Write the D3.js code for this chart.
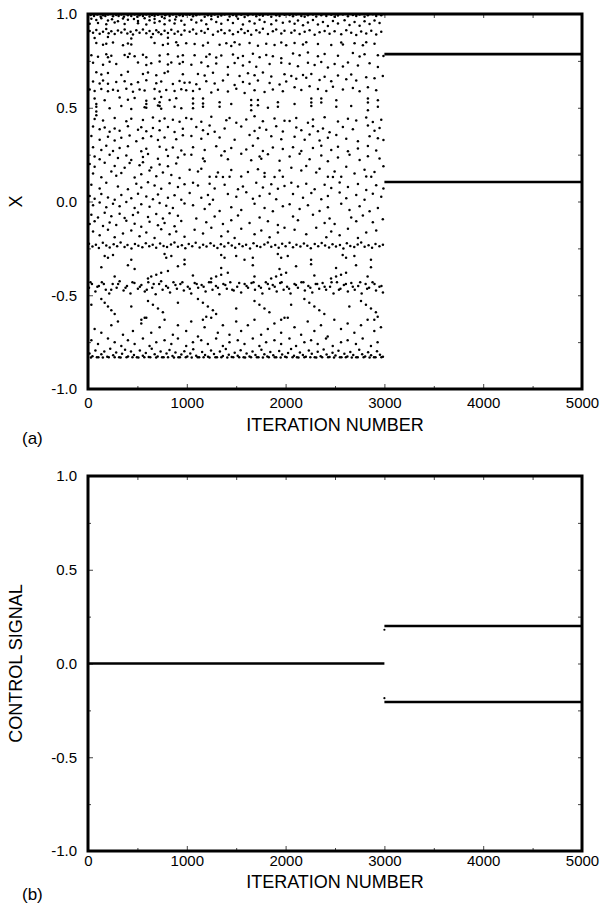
<!DOCTYPE html>
<html>
<head>
<meta charset="utf-8">
<script src="https://cdn.jsdelivr.net/npm/d3@7"></script>
<style>body{margin:0;background:#fff}</style>
</head>
<body>
<script>
width = 601;
height = 908;

// panel (a): chaotic iterates before control is switched on, [iteration, x]
const chaosPoints = [
  // 0-1000, upper part
  [27,.995],[61,.99],[94,.998],[128,.985],[152,.993],[175,.99],[202,.997],[253,.988],[286,.995],[310,.99],[337,.998],[364,.986],[404,.994],[438,.99],[472,.997],[499,.985],[522,.993],[556,.99],[590,.998],[623,.987],[647,.995],[674,.99],[708,.996],[748,.986],[782,.994],[826,.99],[859,.998],[893,.985],[927,.993],[960,.99],[994,.997],
  [34,.975],[84,.968],[135,.978],[202,.965],[243,.972],[303,.962],[354,.976],[404,.969],[465,.974],[506,.963],[573,.977],[623,.967],[674,.973],[725,.961],[775,.978],[826,.966],[883,.971],[944,.964],
  [17,.948],[101,.952],[185,.945],[270,.955],[371,.947],[506,.951],[590,.944],[674,.953],[775,.946],[876,.95],[977,.943],
  [17,.91],[51,.9],[84,.915],[118,.895],[152,.905],[185,.92],[209,.898],[236,.908],[270,.893],[303,.912],[337,.902],[371,.917],[398,.896],[431,.906],[455,.891],[489,.913],[522,.9],[556,.918],[590,.897],[623,.909],[657,.894],[691,.914],[714,.903],[741,.892],[775,.911],[809,.899],[843,.916],[876,.895],[910,.907],[944,.89],[977,.912],
  [67,.872],[202,.878],[438,.87],[640,.876],[809,.873],
  [84,.845],[152,.836],[185,.842],[253,.848],[354,.834],[404,.843],[438,.838],[674,.846],[758,.835],[809,.841],[893,.849],[910,.833],[994,.844],
  [34,.78],[101,.772],[185,.785],[202,.77],[236,.778],[371,.782],[404,.771],[421,.788],[472,.775],[556,.783],[590,.769],[725,.779],[809,.786],[910,.773],[960,.78],
  [51,.74],[152,.73],[219,.745],[286,.733],[506,.742],[590,.728],[640,.738],[725,.747],[809,.731],[843,.741],[927,.735],[960,.744],
  [84,.69],[135,.678],[202,.686],[337,.675],[404,.692],[556,.68],[607,.688],[691,.673],[775,.685],[809,.694],[960,.679],
  [51,.64],[118,.63],[152,.645],[202,.628],[286,.638],[371,.642],[438,.626],[506,.636],[590,.647],[691,.631],[741,.64],[859,.627],[927,.643],[977,.633],
  [17,.598],[67,.59],[135,.6],[202,.588],[253,.596],[303,.591],[388,.602],[455,.586],[522,.597],[573,.592],[674,.6],[725,.587],[792,.595],[876,.589],[944,.599],[994,.593],
  [67,.55],[169,.54],[320,.555],[404,.543],[472,.552],[590,.538],[674,.548],[741,.557],[826,.541],[893,.551],
  [84,.505],[219,.497],[337,.51],[438,.494],[573,.503],[708,.512],[741,.495],[876,.506],[944,.498],
  [84,.52],[84,.48],[84,.46],[590,.52],[590,.5],[725,.53],[725,.51],
  [67,.44],[152,.432],[270,.446],[388,.428],[438,.441],[556,.435],[657,.448],[725,.43],[775,.443],[859,.436],[927,.426],[994,.445],
  // 1000-2000, upper part
  [1029,.996],[1063,.988],[1096,.993],[1130,.999],[1181,.986],[1214,.994],[1248,.99],[1282,.997],[1315,.985],[1349,.992],[1383,.998],[1433,.987],[1467,.995],[1501,.99],[1551,.996],[1585,.984],[1619,.993],[1669,.998],[1703,.988],[1737,.995],[1770,.991],[1821,.997],[1855,.986],[1905,.994],[1939,.989],[1989,.996],
  [1046,.97],[1096,.955],[1147,.965],[1197,.945],[1248,.972],[1298,.958],[1349,.948],[1416,.968],[1467,.952],[1518,.975],[1568,.944],[1635,.962],[1686,.95],[1737,.97],[1787,.957],[1855,.946],[1905,.966],[1972,.953],
  [1029,.905],[1063,.918],[1096,.895],[1147,.91],[1181,.9],[1214,.92],[1265,.89],[1315,.907],[1349,.915],[1383,.897],[1433,.912],[1467,.892],[1518,.904],[1551,.919],[1585,.899],[1619,.909],[1652,.889],[1703,.914],[1737,.902],[1770,.921],[1821,.894],[1871,.908],[1905,.917],[1956,.896],[1989,.911],
  [1079,.84],[1164,.832],[1214,.847],[1332,.836],[1400,.844],[1450,.829],[1484,.85],[1534,.838],[1635,.845],[1720,.831],[1804,.842],[1888,.835],[1956,.848],[2006,.833],
  [1079,.78],[1197,.772],[1231,.786],[1298,.768],[1349,.779],[1467,.784],[1518,.766],[1568,.776],[1669,.788],[1737,.77],[1804,.782],[1871,.775],[1956,.764],
  [1046,.73],[1147,.742],[1214,.722],[1298,.736],[1416,.717],[1484,.739],[1568,.726],[1635,.744],[1703,.719],[1838,.733],[1956,.74],
  [1113,.68],[1181,.672],[1265,.687],[1416,.676],[1534,.669],[1619,.684],[1686,.674],[1770,.688],[1855,.667],[1989,.679],
  [1029,.635],[1096,.626],[1197,.642],[1282,.63],[1366,.645],[1484,.622],[1568,.638],[1635,.628],[1720,.646],[1838,.632],[1939,.624],[2006,.64],
  [1063,.59],[1130,.6],[1248,.582],[1315,.596],[1416,.587],[1501,.602],[1585,.579],[1686,.593],[1787,.584],[1871,.598],[1972,.588],
  [1063,.55],[1063,.523],[1063,.497],[1164,.549],[1164,.523],[1164,.505],[1332,.53],[1332,.505],[1652,.541],[1652,.514],[1652,.487],[1720,.541],[1720,.514],[1922,.53],[1922,.505],[1450,.52],[1821,.5],
  [1046,.44],[1147,.425],[1248,.452],[1400,.433],[1433,.446],[1501,.42],[1602,.438],[1686,.455],[1770,.428],[1888,.443],[1989,.431],
  // 2000-3000, upper part
  [2041,.995],[2075,.988],[2108,.997],[2159,.99],[2193,.985],[2226,.994],[2277,.998],[2310,.987],[2361,.993],[2412,.99],[2462,.996],[2496,.985],[2530,.992],[2580,.998],[2631,.988],[2681,.995],[2715,.99],[2749,.997],[2799,.986],[2833,.993],[2883,.999],[2917,.989],[2968,.994],
  [2041,.96],[2091,.948],[2125,.966],[2176,.94],[2226,.955],[2277,.968],[2327,.944],[2378,.958],[2428,.936],[2479,.963],[2530,.95],[2597,.967],[2647,.942],[2698,.957],[2749,.938],[2799,.962],[2850,.947],[2900,.965],[2951,.952],
  [2058,.9],[2091,.912],[2142,.893],[2193,.906],[2243,.914],[2294,.889],[2344,.903],[2395,.91],[2445,.895],[2496,.908],[2563,.892],[2614,.913],[2664,.9],[2715,.888],[2765,.907],[2816,.896],[2867,.911],[2917,.891],[2968,.905],
  [2091,.845],[2176,.838],[2209,.85],[2327,.84],[2462,.835],[2563,.848],[2580,.837],[2698,.844],[2782,.834],[2816,.849],[2900,.841],
  [2075,.79],[2142,.78],[2226,.795],[2327,.775],[2395,.787],[2530,.778],[2681,.792],[2749,.773],[2799,.785],[2934,.78],[2990,.776],
  [2041,.735],[2125,.722],[2226,.74],[2294,.728],[2361,.744],[2428,.715],[2496,.733],[2580,.72],[2631,.742],[2732,.726],[2850,.737],[2934,.718],
  [2058,.67],[2108,.655],[2176,.675],[2209,.66],[2260,.68],[2344,.648],[2395,.665],[2462,.642],[2530,.672],[2614,.652],[2664,.678],[2715,.645],[2816,.663],[2900,.658],[2984,.67],
  [2091,.61],[2159,.595],[2243,.615],[2327,.6],[2412,.59],[2479,.612],[2580,.597],[2681,.605],[2749,.588],[2833,.609],[2917,.593],
  [2260,.55],[2260,.528],[2260,.51],[2361,.55],[2361,.528],[2513,.54],[2513,.505],[2833,.55],[2833,.528],[2833,.487],[2934,.54],[2934,.505],[2091,.52],[2664,.51],
  [2041,.43],[2108,.445],[2226,.42],[2277,.438],[2395,.45],[2530,.427],[2631,.441],[2715,.432],[2816,.448],[2883,.424],[2968,.436],
  // 0-1000, middle part
  [51,.4],[118,.385],[169,.395],[219,.372],[270,.39],[320,.378],[404,.402],[506,.383],[539,.396],[590,.375],[657,.392],[725,.38],[809,.398],[876,.371],[960,.388],
  [34,.35],[118,.33],[202,.345],[270,.325],[337,.34],[421,.352],[489,.322],[556,.338],[640,.348],[708,.328],[775,.342],[893,.332],[960,.354],
  [51,.29],[135,.275],[185,.297],[253,.27],[320,.285],[404,.295],[539,.268],[590,.282],[725,.292],[792,.276],[859,.288],[944,.272],
  [67,.24],[118,.225],[219,.25],[303,.232],[388,.245],[438,.222],[556,.238],[607,.254],[708,.228],[809,.243],[910,.235],[977,.251],
  [17,.2],[67,.185],[169,.207],[270,.19],[371,.18],[421,.205],[522,.193],[556,.21],[640,.182],[725,.198],[809,.188],[893,.203],
  [51,.15],[135,.13],[236,.16],[286,.138],[337,.152],[472,.128],[539,.145],[623,.165],[691,.135],[758,.155],[843,.142],[927,.126],
  [34,.09],[118,.07],[185,.1],[303,.08],[404,.065],[489,.095],[539,.075],[607,.103],[674,.085],[741,.068],[826,.098],[910,.078],[977,.092],
  [17,.03],[67,.015],[135,.04],[202,.022],[270,.01],[337,.035],[438,.018],[506,.042],[590,.027],[657,.012],[708,.038],[809,.02],[876,.033],[944,.009],
  [51,-.02],[118,-.005],[185,-.03],[253,-.012],[320,-.025],[388,-.002],[472,-.034],[539,-.015],[623,-.028],[725,-.008],[792,-.022],[859,-.035],[977,-.01],
  [34,-.07],[101,-.085],[169,-.06],[236,-.078],[320,-.065],[371,-.088],[455,-.072],[506,-.058],[607,-.082],[691,-.067],[758,-.09],[826,-.062],[910,-.076],
  [17,-.12],[67,-.105],[152,-.13],[219,-.112],[286,-.125],[388,-.102],[472,-.118],[539,-.134],[623,-.108],[708,-.127],[775,-.115],[876,-.132],[944,-.104],
  [51,-.16],[118,-.18],[202,-.15],[270,-.19],[354,-.17],[438,-.155],[522,-.185],[590,-.165],[674,-.195],[741,-.148],[826,-.175],[893,-.16],[977,-.188],
  // 1000-2000, middle part
  [1096,.398],[1164,.38],[1231,.405],[1282,.372],[1383,.39],[1551,.4],[1686,.376],[1737,.393],[1804,.383],[1905,.402],[1972,.374],
  [1046,.35],[1147,.335],[1214,.36],[1332,.342],[1484,.33],[1635,.355],[1720,.338],[1855,.348],[1956,.332],
  [1063,.29],[1181,.275],[1298,.295],[1383,.268],[1450,.285],[1602,.278],[1669,.298],[1770,.27],[1871,.288],[1972,.28],
  [1046,.25],[1164,.23],[1181,.215],[1349,.245],[1416,.225],[1551,.255],[1652,.22],[1737,.24],[1754,.228],[1821,.252],[1939,.218],
  [1029,.17],[1113,.16],[1147,.175],[1315,.155],[1450,.168],[1619,.158],[1720,.172],[1787,.152],[1939,.165],
  [1231,.132],[1298,.132],[1366,.131],[1433,.132],[1551,.133],[1787,.132],[1888,.131],[1972,.132],
  [1063,.1],[1113,.085],[1231,.095],[1282,.07],[1383,.09],[1518,.065],[1568,.08],[1703,.1],[1770,.075],[1855,.092],[1922,.068],[1989,.083],
  [1029,.045],[1147,.02],[1214,.035],[1265,.01],[1416,.04],[1501,.025],[1602,.05],[1669,.015],[1737,.03],[1838,.042],[1905,.012],
  [1063,-.02],[1181,-.04],[1231,-.015],[1332,-.05],[1450,-.03],[1551,-.045],[1686,-.012],[1787,-.035],[1871,-.052],[1972,-.025],
  [1096,-.09],[1197,-.11],[1282,-.08],[1366,-.12],[1450,-.1],[1518,-.075],[1635,-.115],[1737,-.085],[1821,-.105],[1922,-.125],
  [1079,-.15],[1164,-.17],[1248,-.14],[1349,-.185],[1416,-.16],[1484,-.195],[1551,-.145],[1686,-.175],[1754,-.155],[1838,-.19],[1922,-.165],[1989,-.14],
  // 2000-3000, middle part
  [2108,.395],[2159,.38],[2277,.402],[2327,.375],[2378,.39],[2445,.37],[2580,.398],[2681,.385],[2833,.405],[2900,.378],[2951,.392],
  [2091,.345],[2193,.33],[2243,.358],[2344,.325],[2428,.34],[2513,.355],[2614,.335],[2732,.322],[2850,.348],[2934,.338],[2990,.328],
  [2075,.29],[2159,.27],[2277,.285],[2361,.298],[2462,.275],[2530,.292],[2631,.268],[2732,.283],[2833,.296],[2917,.272],
  [2041,.24],[2142,.255],[2243,.225],[2361,.245],[2428,.215],[2530,.235],[2647,.25],[2749,.222],[2833,.242],[2951,.23],
  [2058,.18],[2159,.165],[2209,.19],[2310,.155],[2344,.175],[2496,.16],[2614,.185],[2698,.15],[2799,.17],[2900,.158],[2990,.188],
  [2428,.132],[2479,.131],[2563,.132],[2816,.133],[2867,.132],
  [2058,.1],[2125,.08],[2209,.095],[2294,.065],[2395,.09],[2462,.072],[2547,.102],[2631,.078],[2732,.094],[2816,.062],[2917,.087],[2990,.07],
  [2075,.04],[2176,.02],[2260,.045],[2361,.012],[2428,.03],[2547,.048],[2614,.018],[2715,.035],[2799,.01],[2883,.042],[2968,.025],
  [2041,-.015],[2142,-.04],[2226,-.02],[2344,-.05],[2428,-.03],[2563,-.012],[2647,-.045],[2749,-.025],[2850,-.052],[2934,-.035],
  [2075,-.08],[2125,-.1],[2277,-.07],[2395,-.115],[2445,-.09],[2496,-.12],[2664,-.085],[2715,-.105],[2782,-.075],[2883,-.11],[2984,-.095],
  [2091,-.15],[2209,-.175],[2310,-.14],[2412,-.19],[2462,-.16],[2547,-.18],[2631,-.145],[2732,-.195],[2816,-.165],[2917,-.155],
  // 0-3000, lower part: band near -0.23
  [10,-.225],[45,-.24],[80,-.23],[110,-.248],[150,-.22],[185,-.235],[220,-.245],[260,-.228],[295,-.238],[330,-.218],[370,-.242],[400,-.232],[440,-.25],[475,-.226],[510,-.236],[550,-.244],[585,-.222],[620,-.239],[655,-.23],[690,-.247],[730,-.224],[765,-.237],[800,-.243],[840,-.229],[875,-.219],[910,-.241],[950,-.233],[985,-.249],[1020,-.227],[1055,-.238],[1090,-.22],[1130,-.245],[1165,-.231],[1200,-.24],[1240,-.223],[1275,-.236],[1310,-.248],[1345,-.228],[1380,-.24],[1420,-.221],[1455,-.234],[1490,-.246],[1530,-.226],[1565,-.239],[1600,-.231],[1640,-.25],[1675,-.222],[1710,-.237],[1745,-.243],[1785,-.229],[1820,-.218],[1855,-.241],[1895,-.232],[1930,-.247],[1965,-.225],[2000,-.238],[2040,-.22],[2075,-.244],[2110,-.23],[2150,-.24],[2185,-.224],[2220,-.236],[2255,-.249],[2295,-.227],[2330,-.239],[2365,-.221],[2400,-.234],[2440,-.245],[2475,-.228],[2510,-.24],[2550,-.232],[2585,-.25],[2620,-.223],[2655,-.237],[2695,-.242],[2730,-.229],[2765,-.219],[2800,-.241],[2840,-.233],[2875,-.247],[2910,-.226],[2950,-.238],[2985,-.23],
  [169,-.29],[202,-.3],[253,-.285],[775,-.28],[792,-.3],[843,-.29],[1348,-.285],[1382,-.3],[1500,-.29],[1921,-.28],[1955,-.3],[2022,-.29],[2578,-.285],[2612,-.3],[2696,-.29],[438,-.31],[977,-.31],[1584,-.31],[1668,-.3],[2258,-.31],[2864,-.31],
  [135,-.35],[404,-.34],[472,-.36],[910,-.345],[977,-.335],[1348,-.355],[1668,-.34],[1938,-.36],[2106,-.345],[2258,-.335],[2511,-.355],[2713,-.34],[2864,-.35],
  [607,-.41],[640,-.4],[691,-.39],[741,-.38],[809,-.37],[1247,-.41],[1297,-.4],[1348,-.39],[1415,-.38],[1854,-.41],[1904,-.4],[1955,-.39],[2005,-.38],[2460,-.41],[2511,-.4],[2561,-.39],[2612,-.38],[270,-.4],[1062,-.395],[1685,-.4],[2291,-.395],[2830,-.4],
  // band near -0.46
  [10,-.46],[40,-.44],[75,-.48],[110,-.45],[140,-.43],[180,-.47],[215,-.49],[250,-.44],[290,-.46],[320,-.425],[360,-.475],[395,-.45],[430,-.49],[470,-.435],[505,-.465],[540,-.445],[575,-.48],[610,-.43],[650,-.46],[685,-.495],[720,-.44],[755,-.47],[790,-.45],[830,-.485],[865,-.43],[900,-.465],[935,-.44],[970,-.475],[1010,-.455],[1045,-.49],[1080,-.435],[1115,-.46],[1150,-.445],[1190,-.48],[1225,-.43],[1260,-.47],[1295,-.45],[1330,-.495],[1370,-.44],[1405,-.465],[1440,-.43],[1475,-.475],[1510,-.455],[1550,-.485],[1585,-.44],[1620,-.46],[1655,-.435],[1690,-.47],[1730,-.45],[1765,-.49],[1800,-.43],[1835,-.465],[1870,-.445],[1910,-.48],[1945,-.435],[1980,-.47],[2015,-.455],[2050,-.49],[2090,-.44],[2125,-.46],[2160,-.43],[2195,-.475],[2230,-.45],[2270,-.485],[2305,-.44],[2340,-.465],[2375,-.435],[2410,-.47],[2450,-.455],[2485,-.49],[2520,-.43],[2555,-.465],[2590,-.445],[2630,-.48],[2665,-.435],[2700,-.47],[2735,-.45],[2770,-.49],[2810,-.44],[2845,-.46],[2880,-.43],[2915,-.475],[2950,-.455],[2985,-.485],
  [25,-.43],[95,-.455],[160,-.44],[235,-.47],[305,-.44],[380,-.46],[450,-.43],[525,-.455],[595,-.47],[665,-.44],[740,-.425],[810,-.46],[885,-.445],[955,-.43],[1030,-.465],[1100,-.44],[1170,-.455],[1245,-.43],[1315,-.46],[1390,-.445],[1460,-.47],[1530,-.435],[1605,-.45],[1675,-.43],[1750,-.46],[1820,-.44],[1890,-.455],[1960,-.43],[2035,-.465],[2105,-.445],[2180,-.43],[2250,-.46],[2320,-.44],[2395,-.455],[2465,-.43],[2540,-.47],[2610,-.44],[2680,-.455],[2755,-.43],[2825,-.465],[2900,-.44],[2970,-.45],
  [135,-.52],[169,-.54],[202,-.56],[236,-.58],[270,-.6],[607,-.53],[657,-.55],[708,-.57],[758,-.59],[1113,-.52],[1163,-.54],[1213,-.56],[1264,-.58],[1297,-.6],[1685,-.53],[1735,-.55],[1786,-.57],[1836,-.59],[2190,-.52],[2240,-.54],[2291,-.56],[2341,-.58],[2392,-.6],[2763,-.53],[2813,-.55],[2864,-.57],[2914,-.59],[34,-.55],[438,-.56],[910,-.54],[1500,-.57],[2056,-.55],[2645,-.56],
  [67,-.68],[135,-.7],[236,-.66],[303,-.64],[354,-.71],[455,-.69],[539,-.65],[590,-.62],[640,-.7],[725,-.67],[775,-.63],[859,-.71],[910,-.66],[994,-.69],[1045,-.64],[1113,-.72],[1180,-.67],[1247,-.62],[1314,-.7],[1365,-.66],[1432,-.71],[1500,-.64],[1550,-.69],[1618,-.66],[1685,-.63],[1752,-.71],[1820,-.68],[1887,-.65],[1955,-.7],[2022,-.62],[2090,-.67],[2157,-.71],[2224,-.64],[2291,-.69],[2358,-.66],[2426,-.72],[2493,-.63],[2561,-.68],[2628,-.65],[2696,-.7],[2763,-.66],[2830,-.63],[2898,-.69],[2965,-.67],
  [540,-.63],[574,-.62],[1163,-.63],[1197,-.615],[1955,-.63],[1989,-.62],[2898,-.63],[2932,-.615],
  [34,-.74],[101,-.76],[202,-.73],[270,-.75],[337,-.77],[404,-.74],[472,-.76],[556,-.73],[623,-.77],[691,-.75],[775,-.74],[843,-.76],[910,-.73],[994,-.77],[1062,-.75],[1146,-.74],[1213,-.76],[1297,-.73],[1365,-.77],[1432,-.75],[1516,-.74],[1584,-.76],[1668,-.73],[1735,-.77],[1803,-.75],[1887,-.74],[1955,-.76],[2039,-.73],[2106,-.77],[2190,-.75],[2258,-.74],[2325,-.76],[2409,-.73],[2477,-.77],[2561,-.75],[2628,-.74],[2712,-.76],[2780,-.73],[2864,-.77],[2931,-.75],
  // band along the bottom edge, -0.78 to -0.83
  [15,-.81],[45,-.825],[75,-.795],[105,-.83],[135,-.815],[165,-.8],[195,-.828],[225,-.785],[255,-.82],[285,-.805],[315,-.83],[345,-.812],[375,-.79],[405,-.826],[435,-.8],[465,-.818],[495,-.83],[525,-.795],[555,-.822],[585,-.808],[615,-.829],[645,-.785],[675,-.815],[705,-.826],[735,-.8],[765,-.83],[795,-.81],[825,-.792],[855,-.824],[885,-.805],[915,-.83],[945,-.816],[975,-.798],[1005,-.827],[1035,-.81],[1065,-.788],[1095,-.822],[1125,-.83],[1155,-.803],[1185,-.818],[1215,-.828],[1245,-.795],[1275,-.813],[1305,-.83],[1335,-.8],[1365,-.824],[1395,-.786],[1425,-.817],[1455,-.829],[1485,-.806],[1515,-.822],[1545,-.793],[1575,-.83],[1605,-.811],[1635,-.826],[1665,-.8],[1695,-.819],[1725,-.83],[1755,-.79],[1785,-.814],[1815,-.827],[1845,-.802],[1875,-.82],[1905,-.83],[1935,-.797],[1965,-.816],[1995,-.828],[2025,-.808],[2055,-.787],[2085,-.823],[2115,-.83],[2145,-.805],[2175,-.818],[2205,-.828],[2235,-.794],[2265,-.812],[2295,-.83],[2325,-.801],[2355,-.825],[2385,-.789],[2415,-.816],[2445,-.829],[2475,-.807],[2505,-.821],[2535,-.796],[2565,-.83],[2595,-.812],[2625,-.826],[2655,-.802],[2685,-.818],[2715,-.83],[2745,-.791],[2775,-.815],[2805,-.827],[2835,-.804],[2865,-.82],[2895,-.83],[2925,-.798],[2955,-.817],[2985,-.828],
  [30,-.832],[90,-.83],[150,-.832],[210,-.831],[270,-.83],[330,-.832],[390,-.83],[450,-.831],[510,-.832],[570,-.83],[630,-.831],[690,-.832],[750,-.83],[810,-.831],[870,-.832],[930,-.83],[990,-.831],[1050,-.832],[1110,-.83],[1170,-.831],[1230,-.832],[1290,-.83],[1350,-.831],[1410,-.832],[1470,-.83],[1530,-.831],[1590,-.832],[1650,-.83],[1710,-.831],[1770,-.832],[1830,-.83],[1890,-.831],[1950,-.832],[2010,-.83],[2070,-.831],[2130,-.832],[2190,-.83],[2250,-.831],[2310,-.832],[2370,-.83],[2430,-.831],[2490,-.832],[2550,-.83],[2610,-.831],[2670,-.832],[2730,-.83],[2790,-.831],[2850,-.832],[2910,-.83],[2970,-.831]
];

// panel (a): period-2 orbit held once control starts
const controlOnIter = [3000, 5000];
const period2X = [0.786, 0.104];

// panel (b): control signal
const controlOffIter = [0, 3000];
const controlOffValue = 0;
const controlOnValues = [0.2, -0.205];
const controlStartDots = [[3000, 0.18], [3000, -0.185]];

const xTicks = [0, 1000, 2000, 3000, 4000, 5000];
const xMinorTicks = [500, 1500, 2500, 3500, 4500];
const yTicks = [-1, -0.5, 0, 0.5, 1];
const yMinorTicks = [-0.75, -0.25, 0.25, 0.75];

const font = "'Liberation Sans', Arial, Helvetica, sans-serif";
const left = 88;
const right = 582;

function main() {
  const svg = d3.select('body').append('svg').attr('width', width).attr('height', height);

  const a = createPanel(svg, { top: 14, bottom: 389, tickPad: 8, titleDy: 42, tagDy: 55 }, 'X', '(a)');
  a.g.append('g')
    .selectAll('circle')
    .data(chaosPoints)
    .enter()
    .append('circle')
    .attr('cx', d => a.x(d[0]))
    .attr('cy', d => a.y(d[1]))
    .attr('r', 1.25)
    .attr('fill', '#000');
  a.g.selectAll('line.orbit')
    .data(period2X)
    .enter()
    .append('line')
    .attr('class', 'orbit')
    .attr('x1', a.x(controlOnIter[0]))
    .attr('x2', a.x(controlOnIter[1]))
    .attr('y1', d => a.y(d))
    .attr('y2', d => a.y(d))
    .attr('stroke', '#000')
    .attr('stroke-width', 2.6);
  drawFrame(a);

  const b = createPanel(svg, { top: 476, bottom: 851, tickPad: 4, titleDy: 37, tagDy: 49 }, 'CONTROL SIGNAL', '(b)');
  b.g.append('line')
    .attr('x1', b.x(controlOffIter[0]))
    .attr('x2', b.x(controlOffIter[1]))
    .attr('y1', b.y(controlOffValue))
    .attr('y2', b.y(controlOffValue))
    .attr('stroke', '#000')
    .attr('stroke-width', 2.6);
  b.g.selectAll('line.ctrl')
    .data(controlOnValues)
    .enter()
    .append('line')
    .attr('class', 'ctrl')
    .attr('x1', b.x(controlOnIter[0]))
    .attr('x2', b.x(controlOnIter[1]))
    .attr('y1', d => b.y(d))
    .attr('y2', d => b.y(d))
    .attr('stroke', '#000')
    .attr('stroke-width', 2.6);
  b.g.selectAll('circle')
    .data(controlStartDots)
    .enter()
    .append('circle')
    .attr('cx', d => b.x(d[0]))
    .attr('cy', d => b.y(d[1]))
    .attr('r', 1.1)
    .attr('fill', '#000');
  drawFrame(b);
}

function createPanel(svg, box, yTitle, tag) {
  const { top, bottom } = box;
  const x = d3.scaleLinear().domain([0, 5000]).range([left, right]);
  const y = d3.scaleLinear().domain([-1, 1]).range([bottom, top]);
  const g = svg.append('g');

  const style = sel => {
    sel.select('.domain').remove();
    sel.selectAll('line').attr('stroke', '#444').attr('stroke-width', 1);
    sel.selectAll('text').attr('font-family', font).attr('font-size', 15).attr('fill', '#000');
  };

  g.append('g').attr('transform', `translate(0,${bottom})`)
    .call(d3.axisBottom(x).tickValues(xTicks).tickSizeInner(-5).tickSizeOuter(0).tickPadding(box.tickPad).tickFormat(d => String(d)))
    .call(style);
  g.append('g').attr('transform', `translate(0,${bottom})`)
    .call(d3.axisBottom(x).tickValues(xMinorTicks).tickSizeInner(-3).tickSizeOuter(0).tickFormat(''))
    .call(style);
  g.append('g').attr('transform', `translate(0,${top})`)
    .call(d3.axisTop(x).tickValues(xTicks.concat(xMinorTicks)).tickSizeInner(-4).tickSizeOuter(0).tickFormat(''))
    .call(style);

  g.append('g').attr('transform', `translate(${left},0)`)
    .call(d3.axisLeft(y).tickValues(yTicks).tickSizeInner(-5).tickSizeOuter(0).tickPadding(11).tickFormat(d => d.toFixed(1)))
    .call(style);
  g.append('g').attr('transform', `translate(${left},0)`)
    .call(d3.axisLeft(y).tickValues(yMinorTicks).tickSizeInner(-3).tickSizeOuter(0).tickFormat(''))
    .call(style);
  g.append('g').attr('transform', `translate(${right},0)`)
    .call(d3.axisRight(y).tickValues(yTicks.concat(yMinorTicks)).tickSizeInner(-4).tickSizeOuter(0).tickFormat(''))
    .call(style);

  svg.append('text')
    .attr('x', (left + right) / 2)
    .attr('y', bottom + box.titleDy)
    .attr('text-anchor', 'middle')
    .attr('font-family', font)
    .attr('font-size', 18)
    .text('ITERATION NUMBER');

  svg.append('text')
    .attr('x', 22)
    .attr('y', bottom + box.tagDy)
    .attr('font-family', font)
    .attr('font-size', 17)
    .text(tag);

  svg.append('text')
    .attr('transform', `translate(16,${(top + bottom) / 2}) rotate(-90)`)
    .attr('text-anchor', 'middle')
    .attr('dominant-baseline', 'central')
    .attr('font-family', font)
    .attr('font-size', 18)
    .text(yTitle);

  return { x, y, g, top, bottom };
}

function drawFrame(p) {
  p.g.append('rect')
    .attr('x', left)
    .attr('y', p.top)
    .attr('width', right - left)
    .attr('height', p.bottom - p.top)
    .attr('fill', 'none')
    .attr('stroke', '#000')
    .attr('stroke-width', 3);
}

main();
</script>
</body>
</html>
